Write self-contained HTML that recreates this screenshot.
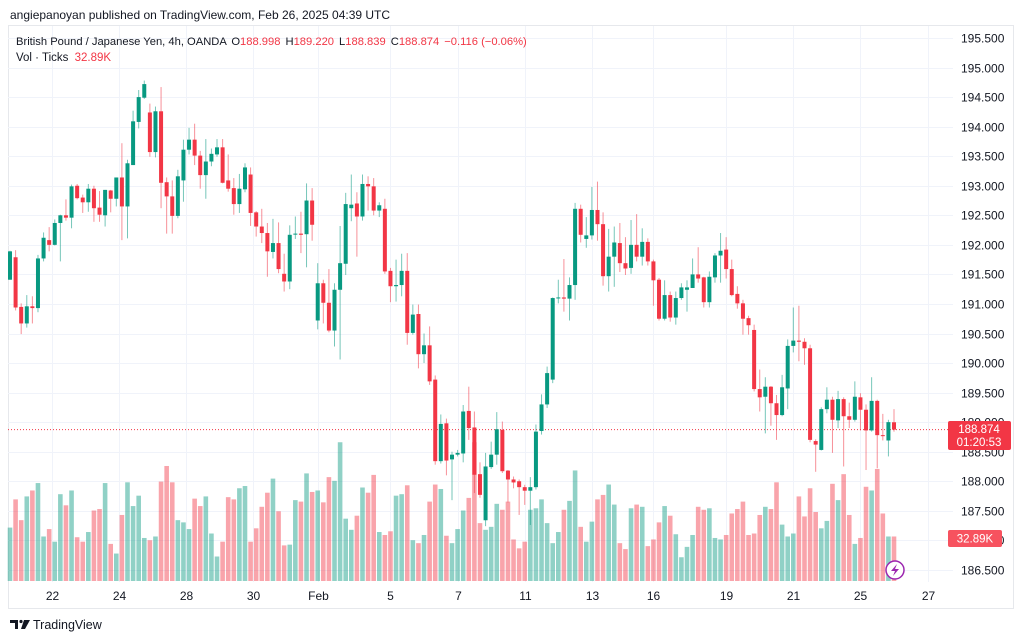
<!DOCTYPE html>
<html><head><meta charset="utf-8"><style>
html,body{margin:0;padding:0;background:#fff;width:1024px;height:641px;overflow:hidden}
svg{display:block;font-family:"Liberation Sans",sans-serif}
</style></head><body>
<svg id="chart" width="1024" height="641" viewBox="0 0 1024 641" xmlns="http://www.w3.org/2000/svg">
<text x="10" y="19" font-size="12" fill="#131722">angiepanoyan published on TradingView.com, Feb 26, 2025 04:39 UTC</text>
<rect x="8.5" y="25.5" width="1005" height="583" fill="none" stroke="#e6e8ec"/>
<g id="grid"></g>
<g id="vols"></g>
<g id="candles"></g>
<g id="axes"></g>
<text x="16" y="45" font-size="11.2" fill="#131722">British Pound / Japanese Yen, 4h, OANDA <tspan dx="2">O</tspan><tspan fill="#F23645">188.998</tspan><tspan dx="5">H</tspan><tspan fill="#F23645">189.220</tspan><tspan dx="5">L</tspan><tspan fill="#F23645">188.839</tspan><tspan dx="5">C</tspan><tspan fill="#F23645">188.874</tspan><tspan dx="5" fill="#F23645">−0.116 (−0.06%)</tspan></text>
<text x="16" y="61" font-size="11.5" fill="#131722">Vol · Ticks <tspan dx="3" fill="#F23645">32.89K</tspan></text>
<g>
<rect x="948" y="421" width="63" height="29" rx="2" fill="#F23645"/>
<text x="979" y="433" font-size="11.5" fill="#fff" text-anchor="middle">188.874</text>
<text x="979" y="446" font-size="11.5" fill="#fff" text-anchor="middle">01:20:53</text>
</g>
<g>
<rect x="948" y="530" width="54" height="17" rx="2" fill="#F7525F"/>
<text x="975" y="542.5" font-size="11.5" fill="#fff" text-anchor="middle">32.89K</text>
</g>
<g>
<circle cx="895" cy="570" r="9" fill="#fff" stroke="#9c27b0" stroke-width="1.5"/>
<path d="M897 564 L891 571 L895 571 L893 576 L899 569 L895 569 Z" fill="#9c27b0"/>
</g>
<g>
<path d="M10 620 h8 v9 h-3 v-6 h-5 z" fill="#131722"/>
<circle cx="21" cy="621.5" r="1.6" fill="#131722"/>
<path d="M24 620 h6 l-5 9 h-4 z" fill="#131722"/>
<text x="33" y="629" font-size="12.5" fill="#131722">TradingView</text>
</g>
</svg>
<script>
const opens=[191.41,191.79,190.95,190.67,190.96,190.93,191.77,192.08,192.00,192.37,192.50,192.46,193.00,192.80,192.72,192.95,192.63,192.50,192.92,192.78,193.14,192.65,193.35,194.08,194.49,194.24,193.57,194.26,193.06,192.82,192.49,193.09,193.61,193.78,193.51,193.18,193.41,193.53,193.65,193.09,192.96,192.69,192.94,193.19,192.55,192.31,192.20,191.88,192.03,191.51,191.38,192.18,192.19,192.18,192.75,190.72,191.35,191.02,190.55,191.24,191.68,192.62,192.70,192.48,193.03,192.99,192.58,192.61,191.56,191.30,191.32,191.56,190.51,190.83,190.15,190.30,189.72,188.34,188.98,188.37,188.45,188.47,189.19,188.91,188.12,187.34,188.24,188.45,188.87,188.18,188.03,188.00,187.90,187.84,187.90,188.85,189.30,189.72,191.10,191.11,191.09,191.32,192.61,192.10,192.16,192.59,192.35,191.47,191.80,192.03,191.69,191.61,192.00,191.80,192.05,191.72,191.41,190.75,191.15,190.77,191.10,191.24,191.27,191.50,191.45,191.03,191.45,191.82,191.92,191.59,191.17,191.01,190.76,190.56,189.56,189.43,189.60,189.32,189.12,189.57,190.29,190.38,190.36,190.25,188.68,188.53,189.22,189.38,189.03,189.39,189.10,189.04,189.42,189.21,188.86,189.36,188.78,188.69,188.998];
const highs=[191.90,191.91,191.01,191.15,191.13,191.83,192.21,192.30,192.43,192.51,192.77,193.02,193.03,192.85,193.03,193.00,192.91,192.93,192.93,193.14,193.72,193.44,194.27,194.62,194.78,194.39,194.34,194.67,193.14,193.09,193.27,193.78,193.98,194.05,193.59,193.79,193.63,193.79,193.79,193.53,193.13,193.20,193.38,193.31,192.57,192.61,192.37,192.44,192.38,191.85,192.33,192.48,192.56,193.04,192.96,191.69,191.41,191.59,191.35,192.32,192.88,193.19,192.89,193.19,193.16,193.13,192.72,192.78,191.61,191.75,191.85,191.86,190.99,190.99,190.50,190.62,189.79,189.13,189.06,188.50,188.53,189.29,189.60,189.18,188.32,188.48,188.67,189.17,189.01,188.19,188.08,188.03,187.94,188.07,188.96,189.47,189.94,191.11,191.41,191.76,191.45,192.71,192.68,192.47,192.98,193.07,192.55,192.27,192.31,192.37,192.13,192.42,192.52,192.28,192.11,191.75,191.44,191.40,191.21,191.21,191.35,191.40,191.77,191.96,191.46,191.55,191.86,192.20,192.13,191.75,191.30,191.07,190.80,190.65,189.89,189.76,189.61,189.46,189.80,190.40,190.94,190.97,190.42,190.31,188.71,189.25,189.59,189.43,189.53,189.42,189.33,189.69,189.49,189.30,189.76,189.38,189.14,189.04,189.22];
const lows=[191.41,190.89,190.49,190.60,190.67,190.86,191.72,191.89,191.99,191.72,192.41,192.28,192.77,192.54,192.56,192.39,192.39,192.31,192.55,192.65,192.08,192.11,193.35,193.97,194.47,193.49,193.48,192.62,192.19,192.19,192.45,192.73,193.53,193.35,192.95,192.78,193.33,193.49,193.04,192.90,192.51,192.54,192.89,192.32,192.14,192.03,191.46,191.77,191.52,191.21,191.25,192.10,191.86,191.62,192.07,190.57,190.67,190.52,190.28,190.06,191.49,192.40,191.80,192.41,192.58,192.50,192.47,191.51,191.03,191.04,191.13,190.31,190.48,189.91,190.00,189.63,188.28,188.30,188.10,187.68,188.42,188.32,188.70,187.80,187.72,187.24,188.21,188.28,188.14,187.64,187.88,187.43,187.60,187.26,187.86,188.79,189.24,189.66,191.01,190.87,190.72,191.07,192.04,191.95,192.09,192.07,191.31,191.21,191.29,191.54,191.49,191.51,191.72,191.65,191.65,190.97,190.72,190.72,190.70,190.65,191.07,190.87,191.27,191.36,190.94,190.94,191.36,191.36,191.43,191.13,190.92,190.48,190.48,189.52,189.18,188.81,188.94,188.70,189.10,189.22,190.18,190.03,189.97,188.66,188.16,188.52,189.15,188.48,188.90,188.25,188.90,189.01,188.86,188.19,188.84,188.22,188.69,188.42,188.839];
const closes=[191.89,190.94,190.67,190.96,190.93,191.77,192.12,192.00,192.37,192.50,192.46,192.99,192.79,192.72,192.95,192.62,192.51,192.93,192.78,193.14,192.65,193.38,194.09,194.50,194.72,193.57,194.26,193.05,192.82,192.49,193.16,193.61,193.78,193.51,193.18,193.41,193.54,193.65,193.05,192.95,192.69,192.95,193.31,192.54,192.31,192.20,191.89,192.03,191.59,191.38,192.17,192.19,192.17,192.75,192.34,191.35,191.02,190.55,191.24,191.69,192.69,192.68,192.48,193.03,192.99,192.58,192.67,191.55,191.30,191.32,191.56,190.51,190.82,190.15,190.30,189.69,188.34,188.97,188.35,188.45,188.48,189.18,188.90,188.11,187.77,188.25,188.45,188.88,188.17,188.03,187.98,187.90,187.84,187.90,188.84,189.30,189.83,191.10,191.11,191.09,191.32,192.61,192.17,192.16,192.59,192.35,191.47,191.80,192.04,191.69,191.60,192.00,191.80,192.05,191.72,191.40,190.75,191.15,190.77,191.10,191.28,191.28,191.50,191.43,191.03,191.46,191.82,191.90,191.59,191.15,191.01,190.75,190.64,189.56,189.42,189.60,189.32,189.12,189.59,190.29,190.38,190.36,190.25,188.70,188.62,189.22,189.38,189.04,189.39,189.10,189.04,189.43,189.21,188.86,189.36,188.78,188.77,189.00,188.874];
const volumes=[72,110,82,114,122,132,60,70,53,117,102,122,59,53,66,95,97,132,50,37,89,133,101,115,58,55,60,134,155,133,82,79,70,111,101,114,64,33,53,113,110,125,128,53,71,100,119,138,94,48,49,109,107,145,120,122,106,140,135,187,84,69,88,126,119,143,66,62,67,115,117,129,55,51,62,107,130,124,61,51,70,95,112,187,78,69,73,104,96,107,56,44,53,96,98,110,78,51,66,96,108,149,73,53,80,110,116,130,103,51,43,98,103,100,47,56,79,101,88,63,32,46,62,100,96,98,58,56,62,91,97,107,62,64,89,100,97,133,76,60,64,114,87,125,93,71,81,131,109,144,89,50,58,127,122,151,91,60,60];
const priceTicks=["195.500","195.000","194.500","194.000","193.500","193.000","192.500","192.000","191.500","191.000","190.500","190.000","189.500","189.000","188.500","188.000","187.500","187.000","186.500"];
const dateLabels=["22","24","28","30","Feb","5","7","11","13","16","19","21","25","27"];
const dateIndex=[7.5,19.5,31.5,43.5,55,68,80,92,104,115,128,140,152,164];
const lastPrice=188.874;

const NS="http://www.w3.org/2000/svg";
const PL=8,PR=953,VB=581;
function y(p){return 38+(195.5-p)*59.1;}
function x(i){return 10+i*5.595;}
function vh(v){return v*0.742;}
function mk(tag,attrs,parent){const e=document.createElementNS(NS,tag);for(const k in attrs)e.setAttribute(k,attrs[k]);parent.appendChild(e);return e;}
const grid=document.getElementById('grid'),axes=document.getElementById('axes'),cg=document.getElementById('candles'),vg=document.getElementById('vols');
priceTicks.forEach(t=>{
  const yy=Math.round(y(parseFloat(t)))+0.5;
  const l=mk('line',{x1:PL,x2:PR,y1:yy,y2:yy,stroke:'#f0f3fa'},grid);
  
  
  const tx=mk('text',{x:961,y:yy+4,'font-size':12,fill:'#131722'},axes);
  tx.textContent=t;
  
  
});
dateLabels.forEach((d,k)=>{
  const xx=Math.round(x(dateIndex[k]))+0.5;
  const l=mk('line',{x1:xx,x2:xx,y1:26,y2:582,stroke:'#f0f3fa'},grid);
  
  
  const tx=mk('text',{x:xx,y:600,'font-size':12,fill:'#131722','text-anchor':'middle'},axes);
  tx.textContent=d;
  
  
});
volumes.forEach((v,i)=>{
  const up=closes[i]>=opens[i];
  const h=vh(v);
  const r=mk('rect',{x:x(i)-2.3,y:VB-h,width:4.6,height:h,fill:up?'rgba(8,153,129,0.45)':'rgba(242,54,69,0.45)'},vg);
  
  
});
const pl=mk('line',{x1:PL,x2:PR,y1:y(lastPrice),y2:y(lastPrice),stroke:'#F23645','stroke-dasharray':'1 2','stroke-width':1},cg);


opens.forEach((o,i)=>{
  const c=closes[i],up=c>=o,col=up?'#089981':'#F23645';
  const g=mk('g',{},cg);
  
  
  mk('line',{x1:x(i),x2:x(i),y1:y(highs[i]),y2:y(lows[i]),stroke:col,'stroke-width':1,opacity:0.55},g);
  const top=y(Math.max(o,c)),bot=y(Math.min(o,c));
  mk('rect',{x:x(i)-2,y:top,width:4,height:Math.max(1,bot-top),fill:col},g);
});
</script>
</body></html>
